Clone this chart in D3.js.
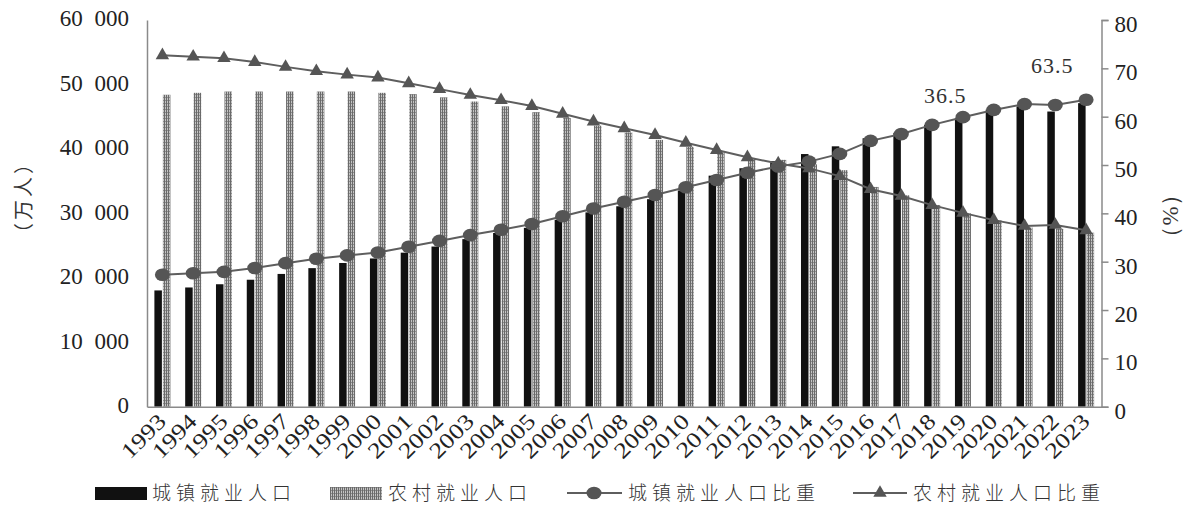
<!DOCTYPE html>
<html>
<head>
<meta charset="utf-8">
<script src="https://cdn.jsdelivr.net/npm/d3@7"></script>
<style>
    body { margin: 0; background: #fff; }
    svg { display: block; }
    .serif { font-family: 'Liberation Serif', 'Times New Roman', 'DejaVu Serif', serif; }
    .cjk { font-family: 'Noto Sans CJK SC', sans-serif; }
</style>
</head>
<body>
<svg id="chart" width="1185" height="510"></svg>
<script>
const years = d3.range(1993, 2024).map(String);

// 城镇就业人口 (万人)
const urbanEmp = [18040, 18500, 19000, 19700, 20600, 21500, 22300, 23000, 23900, 24850,
    26000, 26950, 27750, 29000, 30150, 31100, 32200, 33550, 35850, 37000,
    38100, 39200, 40400, 41650, 42500, 43750, 44800, 46100, 46600, 45800, 47100];

// 农村就业人口 (万人)
const ruralEmp = [48400, 48700, 48900, 48900, 48900, 48900, 48900, 48700, 48500, 48000,
    47350, 46600, 45700, 44800, 43600, 42550, 41400, 40300, 39450, 38500,
    38300, 37600, 36700, 34100, 32800, 31300, 30000, 28900, 27800, 27600, 27000];

// 城镇就业人口比重 (%)
const urbanShare = [27.3, 27.6, 27.9, 28.7, 29.7, 30.6, 31.3, 31.9, 33.1, 34.3,
    35.5, 36.6, 37.8, 39.4, 41.0, 42.4, 43.8, 45.4, 46.9, 48.4,
    49.7, 50.7, 52.3, 55.0, 56.4, 58.3, 59.9, 61.4, 62.6, 62.4, 63.5];

// 农村就业人口比重 (%)
const ruralShare = [72.7, 72.4, 72.1, 71.3, 70.3, 69.4, 68.7, 68.1, 66.9, 65.7,
    64.5, 63.4, 62.2, 60.6, 59.0, 57.6, 56.2, 54.6, 53.1, 51.6,
    50.3, 49.3, 47.7, 45.0, 43.6, 41.7, 40.1, 38.6, 37.4, 37.6, 36.5];

const leftTicks = [0, 10000, 20000, 30000, 40000, 50000, 60000];
const rightTicks = [0, 10, 20, 30, 40, 50, 60, 70, 80];

const annotations = [
    { text: '36.5', year: '2018', value: 62.9, dx: 13 },
    { text: '63.5', year: '2022', value: 69.0, dx: -3 },
];

const legendItems = ['城镇就业人口', '农村就业人口', '城镇就业人口比重', '农村就业人口比重'];

const axisColor = '#8a8a8a';
const markColor = '#555';

const svg = d3.select('#chart');

const plotL = 147, plotR = 1101.5, plotT = 20, plotB = 406.7;

const x = d3.scaleBand().domain(years).range([plotL, plotR]);
const cx = d => x(d) + x.bandwidth() / 2;
const yL = d3.scaleLinear().domain([0, 60000]).range([plotB, plotT]);
const yR = d3.scaleLinear().domain([0, 80]).range([plotB, plotT]);

const fmt = d3.formatLocale({ decimal: '.', thousands: ' ', grouping: [3], currency: ['', ''] }).format(',');

// hatched fill for rural bars
const defs = svg.append('defs');
const pat = defs.append('pattern')
    .attr('id', 'hatch')
    .attr('patternUnits', 'userSpaceOnUse')
    .attr('width', 2)
    .attr('height', 3);
pat.append('rect').attr('width', 2).attr('height', 3).attr('fill', '#c4c4c4');
pat.append('rect').attr('width', 1).attr('height', 3).attr('fill', '#6a6a6a');
pat.append('rect').attr('x', 1).attr('y', 1).attr('width', 1).attr('height', 1).attr('fill', '#8c8c8c');

const barW = 7.5;

// bars
svg.append('g')
    .selectAll('rect')
    .data(years)
    .enter()
    .append('rect')
    .attr('x', d => cx(d) - barW - 0.5)
    .attr('y', (d, i) => yL(urbanEmp[i]))
    .attr('width', barW)
    .attr('height', (d, i) => yL(0) - yL(urbanEmp[i]))
    .attr('fill', '#111');

svg.append('g')
    .selectAll('rect')
    .data(years)
    .enter()
    .append('rect')
    .attr('x', d => cx(d) + 0.5)
    .attr('y', (d, i) => yL(ruralEmp[i]))
    .attr('width', barW)
    .attr('height', (d, i) => yL(0) - yL(ruralEmp[i]))
    .attr('fill', 'url(#hatch)');

// axes
const gl = svg.append('g')
    .attr('transform', `translate(${plotL},0)`)
    .call(d3.axisLeft(yL).tickValues(leftTicks).tickSize(0).tickPadding(18).tickFormat(fmt));
gl.attr('font-family', null);
gl.select('.domain').attr('stroke', axisColor).attr('stroke-width', 1.5);
gl.selectAll('text')
    .attr('class', 'serif')
    .attr('font-size', 23)
    .attr('fill', '#222')
    .attr('dy', '0.25em')
    .style('word-spacing', '6px');

const gr = svg.append('g')
    .attr('transform', `translate(${plotR},0)`)
    .call(d3.axisRight(yR).tickValues(rightTicks).tickSize(7).tickPadding(6).tickSizeOuter(7));
gr.attr('font-family', null);
gr.select('.domain').attr('stroke', axisColor).attr('stroke-width', 1.5);
gr.selectAll('line').attr('stroke', axisColor).attr('stroke-width', 1.5);
gr.selectAll('text')
    .attr('class', 'serif')
    .attr('font-size', 23)
    .attr('fill', '#222')
    .attr('dy', '0.5em');

const gb = svg.append('g')
    .attr('transform', `translate(0,${plotB})`)
    .call(d3.axisBottom(x).tickSize(0).tickSizeOuter(0).tickPadding(0));
gb.attr('font-family', null);
gb.select('.domain').attr('stroke', axisColor).attr('stroke-width', 1.5);
gb.selectAll('text')
    .attr('class', 'serif')
    .attr('font-size', 22)
    .attr('fill', '#222')
    .attr('text-anchor', 'end')
    .attr('dy', 0)
    .attr('y', 0)
    .attr('transform', 'translate(5,16) rotate(-45) scale(1.2,1)');

// axis titles
svg.append('text')
    .attr('class', 'cjk')
    .attr('transform', 'translate(31,197) rotate(-90)')
    .attr('text-anchor', 'middle')
    .attr('font-size', 20)
    .attr('letter-spacing', 3)
    .attr('fill', '#333')
    .text('（万人）');

svg.append('text')
    .attr('class', 'serif')
    .attr('transform', 'translate(1178,216) rotate(-90)')
    .attr('text-anchor', 'middle')
    .attr('font-size', 23)
    .attr('fill', '#333')
    .text('（%）');

// lines
const lineU = d3.line().x((d, i) => cx(years[i])).y(d => yR(d));
svg.append('path')
    .datum(urbanShare)
    .attr('d', lineU)
    .attr('fill', 'none')
    .attr('stroke', '#5e5e5e')
    .attr('stroke-width', 2);
svg.append('g')
    .selectAll('ellipse')
    .data(urbanShare)
    .enter()
    .append('ellipse')
    .attr('cx', (d, i) => cx(years[i]))
    .attr('cy', d => yR(d))
    .attr('rx', 7.5)
    .attr('ry', 6.3)
    .attr('fill', markColor);

svg.append('path')
    .datum(ruralShare)
    .attr('d', lineU)
    .attr('fill', 'none')
    .attr('stroke', '#5e5e5e')
    .attr('stroke-width', 2);
const tri = d3.symbol(d3.symbolTriangle).size(78);
svg.append('g')
    .selectAll('path')
    .data(ruralShare)
    .enter()
    .append('path')
    .attr('d', tri)
    .attr('transform', (d, i) => `translate(${cx(years[i])},${yR(d)})`)
    .attr('fill', markColor);

// value labels
svg.append('g')
    .selectAll('text')
    .data(annotations)
    .enter()
    .append('text')
    .attr('class', 'serif')
    .attr('x', d => cx(d.year) + d.dx)
    .attr('y', d => yR(d.value))
    .attr('text-anchor', 'middle')
    .attr('font-size', 22)
    .attr('letter-spacing', 1)
    .attr('fill', '#333')
    .text(d => d.text);

// legend
const ly = 493;
const lg = svg.append('g');
lg.append('rect').attr('x', 95).attr('y', ly - 6).attr('width', 52).attr('height', 13).attr('fill', '#111');
lg.append('rect').attr('x', 330).attr('y', ly - 6).attr('width', 52).attr('height', 13).attr('fill', 'url(#hatch)');
lg.append('line').attr('x1', 567).attr('x2', 622).attr('y1', ly).attr('y2', ly).attr('stroke', '#5e5e5e').attr('stroke-width', 2);
lg.append('ellipse').attr('cx', 594).attr('cy', ly).attr('rx', 7.5).attr('ry', 6.3).attr('fill', markColor);
lg.append('line').attr('x1', 853).attr('x2', 907).attr('y1', ly).attr('y2', ly).attr('stroke', '#5e5e5e').attr('stroke-width', 2);
lg.append('path').attr('d', tri).attr('transform', `translate(880,${ly})`).attr('fill', markColor);

const legendX = [152, 388, 628, 913];
lg.selectAll('text')
    .data(legendItems)
    .enter()
    .append('text')
    .attr('class', 'cjk')
    .attr('x', (d, i) => legendX[i])
    .attr('y', ly)
    .attr('dy', '0.36em')
    .attr('font-size', 19)
    .attr('font-weight', 300)
    .attr('letter-spacing', 5)
    .attr('fill', '#333')
    .text(d => d);
</script>
</body>
</html>
